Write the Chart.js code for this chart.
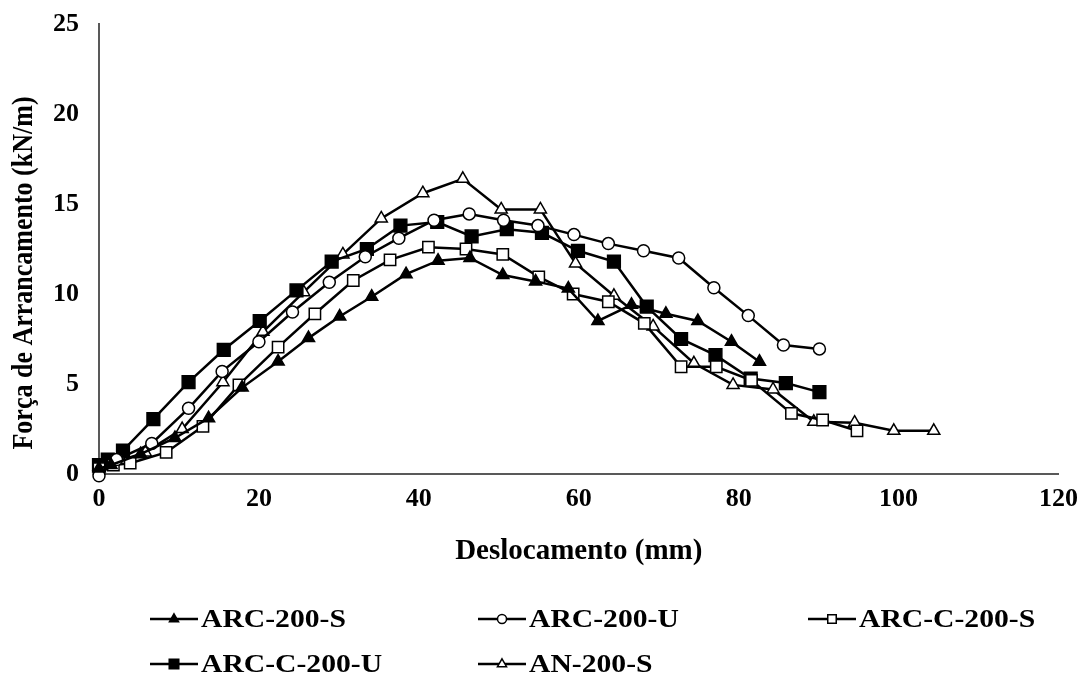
<!DOCTYPE html>
<html>
<head>
<meta charset="utf-8">
<title>Força de Arrancamento x Deslocamento</title>
<script src="https://cdn.jsdelivr.net/npm/chart.js@4.4.1/dist/chart.umd.min.js"></script>
<style>
  html, body { margin: 0; padding: 0; background: #ffffff; }
  #wrap { width: 1088px; height: 675px; }
</style>
</head>
<body>
<div id="wrap"><canvas id="c" width="1088" height="675"></canvas></div>
<script>
// Pull-out force (kN/m) against displacement (mm) for each test series
const seriesNames = ['ARC-200-S', 'ARC-200-U', 'ARC-C-200-S', 'ARC-C-200-U', 'AN-200-S'];

const arc200S_x = [0, 1.5, 5.2, 9.5, 13.7, 17.9, 22.4, 26.2, 30.1, 34.1, 38.4, 42.4, 46.4, 50.5, 54.6, 58.7, 62.4, 66.6, 70.9, 74.9, 79.1, 82.6];
const arc200S_y = [0.3, 0.5, 1.1, 2.0, 3.1, 4.8, 6.25, 7.55, 8.75, 9.85, 11.1, 11.85, 12.0, 11.05, 10.7, 10.3, 8.5, 9.4, 8.9, 8.5, 7.35, 6.24];

const arc200U_x = [0, 2.2, 6.6, 11.2, 15.4, 20.0, 24.2, 28.8, 33.3, 37.5, 41.9, 46.3, 50.6, 54.9, 59.4, 63.7, 68.1, 72.5, 76.9, 81.2, 85.6, 90.1];
const arc200U_y = [-0.1, 0.8, 1.7, 3.65, 5.7, 7.35, 9.0, 10.65, 12.07, 13.1, 14.1, 14.45, 14.1, 13.8, 13.3, 12.8, 12.4, 12.0, 10.35, 8.8, 7.17, 6.95];

const arcC200S_x = [0, 1.8, 3.9, 8.4, 13.0, 17.5, 22.4, 27.0, 31.8, 36.4, 41.2, 45.9, 50.5, 55.0, 59.3, 63.7, 68.2, 72.8, 77.2, 81.6, 86.6, 90.5, 94.8];
const arcC200S_y = [0.3, 0.5, 0.6, 1.2, 2.65, 4.95, 7.05, 8.9, 10.75, 11.9, 12.6, 12.5, 12.2, 10.95, 10.0, 9.57, 8.37, 5.96, 5.96, 5.2, 3.37, 3.0, 2.4];

const arcC200U_x = [0, 1.1, 3.0, 6.8, 11.2, 15.6, 20.1, 24.7, 29.1, 33.5, 37.7, 42.3, 46.6, 51.0, 55.4, 59.9, 64.4, 68.5, 72.8, 77.1, 81.5, 85.9, 90.1];
const arcC200U_y = [0.5, 0.8, 1.3, 3.05, 5.1, 6.9, 8.5, 10.2, 11.8, 12.5, 13.8, 14.0, 13.2, 13.6, 13.4, 12.4, 11.8, 9.3, 7.5, 6.6, 5.3, 5.05, 4.55];

const an200S_x = [0, 0.9, 5.8, 10.4, 15.5, 20.5, 25.6, 30.5, 35.3, 40.5, 45.5, 50.3, 55.2, 59.6, 64.4, 69.3, 74.4, 79.3, 84.3, 89.4, 94.5, 99.4, 104.4];
const an200S_y = [0.4, 0.5, 1.2, 2.5, 5.1, 7.9, 10.1, 12.2, 14.2, 15.6, 16.4, 14.7, 14.7, 11.7, 9.9, 8.2, 6.15, 4.95, 4.7, 2.9, 2.85, 2.4, 2.4];

const xTicks = [0, 20, 40, 60, 80, 100, 120];
const yTicks = [0, 5, 10, 15, 20, 25];

const xTitle = 'Deslocamento (mm)';
const yTitle = 'Força de Arrancamento (kN/m)';

const serif = "'Liberation Serif', 'Times New Roman', serif";

function toPoints(xs, ys) {
  return xs.map((x, i) => ({ x: x, y: ys[i] }));
}

function series(label, xs, ys, style, fill, radius) {
  return {
    label: label,
    data: toPoints(xs, ys),
    showLine: true,
    borderColor: '#000000',
    borderWidth: 2.5,
    pointStyle: style,
    pointRadius: radius,
    pointHoverRadius: radius,
    pointBackgroundColor: fill,
    pointBorderColor: '#000000',
    pointBorderWidth: 1.5,
    tension: 0,
    clip: false
  };
}

const datasets = [
  series(seriesNames[0], arc200S_x, arc200S_y, 'triangle', '#000000', 7),
  series(seriesNames[1], arc200U_x, arc200U_y, 'circle', '#ffffff', 6),
  series(seriesNames[2], arcC200S_x, arcC200S_y, 'rect', '#ffffff', 8),
  series(seriesNames[3], arcC200U_x, arcC200U_y, 'rect', '#000000', 9),
  series(seriesNames[4], an200S_x, an200S_y, 'triangle', '#ffffff', 7)
];

// Text in this figure is set slightly wide
const TEXT_STRETCH = 1.14;

// Rotated y-axis title, placed a little below the plot's mid-height
const yAxisTitle = {
  id: 'yAxisTitle',
  afterDraw(chart) {
    const ctx = chart.ctx;
    ctx.save();
    ctx.translate(24, 273);
    ctx.rotate(-Math.PI / 2);
    ctx.font = 'bold 26px ' + serif;
    ctx.fillStyle = '#000000';
    ctx.textAlign = 'center';
    ctx.textBaseline = 'middle';
    ctx.scale(1, TEXT_STRETCH);
    ctx.fillText(yTitle, 0, 0);
    ctx.restore();
  }
};

// Legend laid out as a 3-column grid under the x-axis title
const legendCols = [150, 478, 808];
const legendRows = [619, 664];
const gridLegend = {
  id: 'gridLegend',
  afterDraw(chart) {
    const ctx = chart.ctx;
    ctx.save();
    chart.data.datasets.forEach((ds, i) => {
      const x0 = legendCols[i % 3];
      const y = legendRows[Math.floor(i / 3)];
      const len = 48;
      ctx.strokeStyle = ds.borderColor;
      ctx.lineWidth = ds.borderWidth;
      ctx.beginPath();
      ctx.moveTo(x0, y);
      ctx.lineTo(x0 + len, y);
      ctx.stroke();
      ctx.fillStyle = ds.pointBackgroundColor;
      ctx.strokeStyle = ds.pointBorderColor;
      ctx.lineWidth = ds.pointBorderWidth;
      Chart.helpers.drawPoint(ctx, {
        pointStyle: ds.pointStyle,
        rotation: 0,
        radius: ds.pointRadius * 0.75,
        borderWidth: ds.pointBorderWidth
      }, x0 + len / 2, y);
      ctx.save();
      ctx.translate(x0 + len + 3, y + 1);
      ctx.scale(TEXT_STRETCH, 1);
      ctx.fillStyle = '#000000';
      ctx.font = 'bold 26px ' + serif;
      ctx.textAlign = 'left';
      ctx.textBaseline = 'middle';
      ctx.fillText(ds.label, 0, 0);
      ctx.restore();
    });
    ctx.restore();
  }
};

new Chart(document.getElementById('c'), {
  type: 'scatter',
  data: { datasets: datasets },
  options: {
    responsive: false,
    animation: false,
    events: [],
    layout: { padding: { left: 0, top: 24, right: 28, bottom: 81 } },
    plugins: {
      legend: { display: false },
      tooltip: { enabled: false }
    },
    scales: {
      x: {
        type: 'linear',
        min: 0,
        max: 120,
        afterBuildTicks(scale) { scale.ticks = xTicks.map(v => ({ value: v })); },
        afterFit(scale) { scale.height = 120; },
        grid: { display: false, drawTicks: false },
        border: { display: true, color: '#595959', width: 2 },
        ticks: {
          color: '#000000',
          padding: 10,
          maxRotation: 0,
          font: { family: serif, size: 26, weight: 'bold' }
        },
        title: {
          display: true,
          text: xTitle,
          color: '#000000',
          padding: { top: 0, bottom: 25 },
          font: { family: serif, size: 29, weight: 'bold' }
        }
      },
      y: {
        type: 'linear',
        min: 0,
        max: 25,
        afterBuildTicks(scale) { scale.ticks = yTicks.map(v => ({ value: v })); },
        afterFit(scale) {
          scale.width = 99;
          scale.paddingTop = 0;
          scale.paddingBottom = 0;
        },
        grid: { display: false, drawTicks: false },
        border: { display: true, color: '#595959', width: 2 },
        ticks: {
          color: '#000000',
          padding: 20,
          font: { family: serif, size: 26, weight: 'bold' }
        },
        title: { display: false }
      }
    }
  },
  plugins: [yAxisTitle, gridLegend]
});
</script>
</body>
</html>
